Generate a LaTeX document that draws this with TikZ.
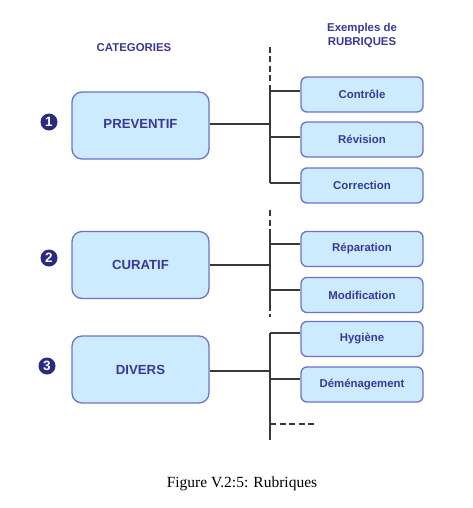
\documentclass[tikz,border=0pt]{standalone}
\usepackage{fontspec}
\setmainfont{Liberation Serif}
\newfontfamily\arialf{Liberation Sans}
\definecolor{boxfill}{HTML}{CDEBFF}
\definecolor{boxline}{HTML}{6A72CC}
\definecolor{boxtext}{HTML}{38389A}
\definecolor{navy}{HTML}{2A2A80}
\definecolor{wire}{HTML}{383838}
\tikzset{
  catbox/.style={draw=boxline, fill=boxfill, line width=1.3pt, rounded corners=10pt,
    minimum width=137pt, minimum height=67pt, inner sep=0pt,
    text=boxtext, font=\arialf\bfseries\fontsize{13.2}{15}\selectfont},
  rubbox/.style={draw=boxline, fill=boxfill, line width=1.3pt, rounded corners=6pt,
    minimum width=122pt, minimum height=35pt, inner sep=0pt,
    text=boxtext, font=\arialf\bfseries\fontsize{11.4}{13}\selectfont},
  heading/.style={text=boxtext, font=\arialf\bfseries\fontsize{11.4}{14}\selectfont, align=center, inner sep=0pt},
  numdot/.style={circle, fill=navy, text=white, inner sep=0pt, minimum size=17pt,
    font=\arialf\bfseries\fontsize{13.5}{13.5}\selectfont},
  wireline/.style={draw=wire, line width=1.2pt},
  wiredash/.style={draw=wire, line width=1.2pt, dash pattern=on 6pt off 3.5pt}
}
\begin{document}
\begin{tikzpicture}[x=1pt,y=-1pt]
\useasboundingbox (0,0) rectangle (472,508);
% headings
\node[heading] (hcat) at (134,48) {CATEGORIES};
\node[heading] (hrub) at (362,35) {Exemples de\\RUBRIQUES};
% category boxes
\node[catbox] (prev) at (140.5,125.5) {\raisebox{4pt}{PREVENTIF}};
\node[catbox] (cura) at (140.5,265) {CURATIF};
\node[catbox] (dive) at (140.5,369.5) {DIVERS};
% numbers
\node[numdot] (n1) at (49,122) {1};
\node[numdot] (n2) at (49,258) {2};
\node[numdot] (n3) at (47,366) {3};
% rubric boxes
\node[rubbox] (r1) at (362,94.5) {Contrôle};
\node[rubbox] (r2) at (362,139.5) {Révision};
\node[rubbox] (r3) at (362,185.5) {Correction};
\node[rubbox] (r4) at (362,249) {Réparation};
\node[rubbox] (r5) at (362,295) {Modification};
\node[rubbox] (r6) at (362,339) {Hygiène};
\node[rubbox] (r7) at (362,384.5) {Déménagement};
% spine coordinates
\coordinate (s1top) at (270,47);
\coordinate (s1a) at (270,91);
\coordinate (s1b) at (270,183);
\coordinate (s2top) at (270,210);
\coordinate (s2a) at (270,232);
\coordinate (s2b) at (270,308);
\coordinate (s2bot) at (270,318);
\coordinate (s3a) at (270,333);
\coordinate (s3b) at (270,440);
\coordinate (s3d) at (270,424);
\coordinate (s3e) at (317,424);
% spines
\draw[wiredash] (s1top) -- (s1a);
\draw[wireline] (s1a) -- (s1b);
\draw[wiredash] (s2top) -- (s2a);
\draw[wireline] (s2a) -- (s2b);
\draw[wiredash, dash pattern=on 3pt off 3pt] (s2b) -- (s2bot);
\draw[wireline] (s3a) -- (s3b);
\draw[wiredash] (s3d) -- (s3e);
% category connectors
\draw[wireline] ([yshift=1.5pt]prev.east) -- ([yshift=1.5pt]prev.east -| s1a);
\draw[wireline] (cura.east) -- (cura.east -| s1a);
\draw[wireline] ([yshift=-1.5pt]dive.east) -- ([yshift=-1.5pt]dive.east -| s1a);
% rubric branches
\foreach \r/\d in {r1/3.5,r2/2.5,r3/2.5,r4/5,r5/5,r6/6,r7/5.5}{
  \draw[wireline] ([yshift=\d pt]\r.west -| s1a) -- ([yshift=\d pt]\r.west);
}
% caption
\node[font=\fontsize{15.5}{18}\selectfont, inner sep=0pt] (cap) at (242,484) {Figure V.2:5: Rubriques};
\end{tikzpicture}
\end{document}
